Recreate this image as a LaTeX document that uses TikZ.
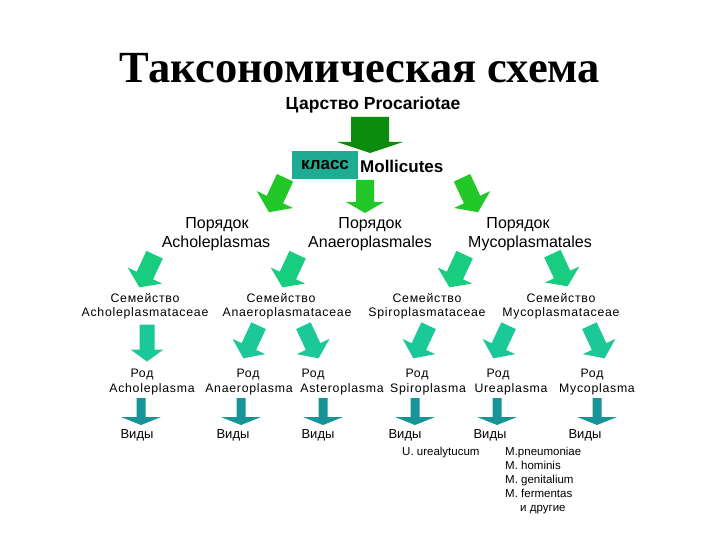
\documentclass[tikz,border=0pt]{standalone}
\usepackage{fontspec}
\setmainfont{Liberation Sans}
\newfontfamily\titlefont{Liberation Serif}
\newfontfamily\spacedfont[LetterSpace=6]{Liberation Sans}
\definecolor{darkgr}{RGB}{12,140,12}
\definecolor{brightgr}{RGB}{34,200,40}
\definecolor{mint}{RGB}{24,204,128}
\definecolor{tealgr}{RGB}{26,200,152}
\definecolor{darkteal}{RGB}{22,148,152}
\definecolor{boxteal}{RGB}{30,172,146}
\tikzset{
  lbl/.style={inner sep=0pt, text=black},
  lvltwo/.style={lbl, font=\fontsize{16}{18}\selectfont},
  lvlthree/.style={lbl, font=\spacedfont\fontsize{12.3}{14}\selectfont},
  lvlfive/.style={lbl, font=\fontsize{13}{15}\selectfont},
  species/.style={lbl, anchor=west, text height=8.5pt, text depth=2.5pt, font=\fontsize{11.5}{13}\selectfont},
}
% block arrow: centre x, centre y, rotation, length, head half-width, shaft half-width, head length, colour
\newcommand\barr[8]{%
  \fill[#8, shift={(#1,#2)}, rotate=#3]
    (0,#4/2) -- (#5,#4/2-#7) -- (#6,#4/2-#7) -- (#6,-#4/2) --
    (-#6,-#4/2) -- (-#6,#4/2-#7) -- (-#5,#4/2-#7) -- cycle;}
\begin{document}
\begin{tikzpicture}[x=1pt,y=-1pt]
\useasboundingbox (0,0) rectangle (720,540);
\fill[white] (0,0) rectangle (720,540);

% title
\node[lbl, font=\titlefont\bfseries\fontsize{44.5}{48}\selectfont] (title) at (360,68) {Таксономическая схема};
\node[lbl, font=\bfseries\fontsize{17.5}{20}\selectfont] (kingdom) at (373,105) {Царство Procariotae};

% big arrow
\barr{370}{135}{0}{36}{33}{19}{11}{darkgr}

% class
\node[fill=boxteal, minimum width=66, minimum height=28, inner sep=0pt, font=\bfseries\fontsize{17}{20}\selectfont] (cls) at (325,165) {класс};
\node[lbl, anchor=west, font=\bfseries\fontsize{17}{20}\selectfont] (moll) at (360,166) {Mollicutes};

% level-1 arrows
\barr{277}{195}{-25}{38}{20}{9}{14}{brightgr}
\barr{365}{196.5}{0}{33}{19}{9}{11}{brightgr}
\barr{470}{195}{25}{38}{20}{9}{14}{brightgr}

% orders
\node[lvltwo] (o1a) at (217,225) {Порядок};
\node[lvltwo] (o1b) at (216,243) {Acholeplasmas};
\node[lvltwo] (o2a) at (370,225) {Порядок};
\node[lvltwo] (o2b) at (370,243) {Anaeroplasmales};
\node[lvltwo] (o3a) at (518,225) {Порядок};
\node[lvltwo] (o3b) at (530,243) {Mycoplasmatales};

% level-2 arrows
\barr{147}{271}{-25}{36}{19}{9}{13}{mint}
\barr{290}{271}{-25}{36}{19}{9}{13}{mint}
\barr{457}{271}{-25}{36}{19}{9}{13}{mint}
\barr{560}{270}{25}{36}{19}{9}{13}{mint}

% families
\node[lvlthree] (f1a) at (145,298) {Семейство};
\node[lvlthree] (f1b) at (145,313) {Acholeplasmataceae};
\node[lvlthree] (f2a) at (281,298) {Семейство};
\node[lvlthree] (f2b) at (287,313) {Anaeroplasmataceae};
\node[lvlthree] (f3a) at (427,298) {Семейство};
\node[lvlthree] (f3b) at (427,313) {Spiroplasmataceae};
\node[lvlthree] (f4a) at (561,298) {Семейство};
\node[lvlthree] (f4b) at (561,313) {Mycoplasmataceae};

% level-3 arrows
\barr{147}{343}{0}{37}{16.5}{7.5}{12}{tealgr}
\barr{251}{342}{-25}{36}{18}{8}{13}{tealgr}
\barr{311}{342}{25}{36}{18}{8}{13}{tealgr}
\barr{421}{342}{-25}{36}{18}{8}{13}{tealgr}
\barr{501}{342}{-25}{36}{18}{8}{13}{tealgr}
\barr{597}{342}{25}{36}{18}{8}{13}{tealgr}

% genera
\node[lvlthree] (g1a) at (142,374) {Род};
\node[lvlthree] (g1b) at (152,389) {Acholeplasma};
\node[lvlthree] (g2a) at (248,374) {Род};
\node[lvlthree] (g2b) at (249,389) {Anaeroplasma};
\node[lvlthree] (g3a) at (313,374) {Род};
\node[lvlthree] (g3b) at (342,389) {Asteroplasma};
\node[lvlthree] (g4a) at (417,374) {Род};
\node[lvlthree] (g4b) at (428,389) {Spiroplasma};
\node[lvlthree] (g5a) at (498,374) {Род};
\node[lvlthree] (g5b) at (511,389) {Ureaplasma};
\node[lvlthree] (g6a) at (592,374) {Род};
\node[lvlthree] (g6b) at (597,389) {Mycoplasma};

% level-4 arrows
\barr{141}{411.5}{0}{27}{20}{4.5}{8}{darkteal}
\barr{241}{411.5}{0}{27}{20}{4.5}{8}{darkteal}
\barr{323}{411.5}{0}{27}{20}{4.5}{8}{darkteal}
\barr{415}{411.5}{0}{27}{20}{4.5}{8}{darkteal}
\barr{497}{411.5}{0}{27}{20}{4.5}{8}{darkteal}
\barr{597}{411.5}{0}{27}{20}{4.5}{8}{darkteal}

% species
\node[lvlfive] (s1) at (137,435) {Виды};
\node[lvlfive] (s2) at (233,435) {Виды};
\node[lvlfive] (s3) at (318,435) {Виды};
\node[lvlfive] (s4) at (405,435) {Виды};
\node[lvlfive] (s5) at (490,435) {Виды};
\node[lvlfive] (s6) at (585,435) {Виды};

\node[species] (u1) at (402,452) {U. urealytucum};
\node[species] (m1) at (505,452) {M.pneumoniae};
\node[species] (m2) at (505,466) {M. hominis};
\node[species] (m3) at (505,480) {M. genitalium};
\node[species] (m4) at (505,494) {M. fermentas};
\node[species] (m5) at (520,508) {и другие};
\end{tikzpicture}
\end{document}
